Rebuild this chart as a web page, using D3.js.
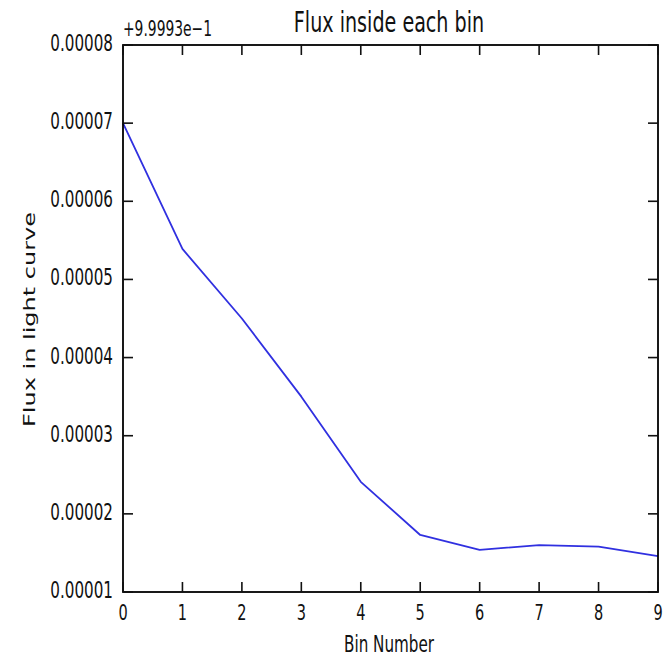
<!DOCTYPE html>
<html>
<head>
<meta charset="utf-8">
<script src="https://cdn.jsdelivr.net/npm/d3@7"></script>
<style>
  html, body { margin: 0; padding: 0; background: #fff; }
  svg { display: block; }
  text { font-family: "DejaVu Sans", sans-serif; fill: #111; }
</style>
</head>
<body>
<svg id="chart" width="672" height="659"></svg>
<script>
// ---- data ----
const binNumbers = [0, 1, 2, 3, 4, 5, 6, 7, 8, 9];
// flux values expressed relative to the offset 0.99993
const fluxOffset = 0.99993;
const fluxRelative = [0.0000700, 0.0000539, 0.0000450, 0.0000350, 0.0000241,
                      0.0000173, 0.0000154, 0.0000160, 0.0000158, 0.0000146];
const yTickValues = [0.00001, 0.00002, 0.00003, 0.00004, 0.00005, 0.00006, 0.00007, 0.00008];
const xTickValues = [0, 1, 2, 3, 4, 5, 6, 7, 8, 9];
const titleText = "Flux inside each bin";
const xLabelText = "Bin Number";
const yLabelText = "Flux in light curve";
const offsetText = "+9.9993e\u22121";

// ---- layout ----
const L = 123, R = 658, T = 45, B = 592;
const SX = 0.66; // horizontal squash of glyphs

const svg = d3.select("#chart");
const x = d3.scaleLinear().domain([0, 9]).range([L, R]);
const y = d3.scaleLinear().domain([0.00001, 0.00008]).range([B, T]);

// data line
const line = d3.line().x((d, i) => x(binNumbers[i])).y(d => y(d));
svg.append("path")
  .datum(fluxRelative)
  .attr("fill", "none")
  .attr("stroke", "#3030e0")
  .attr("stroke-width", 1.8)
  .attr("stroke-linejoin", "round")
  .attr("d", line);

// frame
svg.append("rect")
  .attr("x", L).attr("y", T)
  .attr("width", R - L).attr("height", B - T)
  .attr("fill", "none").attr("stroke", "#000").attr("stroke-width", 1.8);

// ticks, inward on all four sides, drawn as thin rects
const tickLen = 10, tickW = 1.6;
const tg = svg.append("g").attr("fill", "#111");
tg.selectAll("rect.xb").data(xTickValues).join("rect").attr("class", "xb")
  .attr("x", d => x(d) - tickW / 2).attr("y", B - tickLen).attr("width", tickW).attr("height", tickLen);
tg.selectAll("rect.xt").data(xTickValues).join("rect").attr("class", "xt")
  .attr("x", d => x(d) - tickW / 2).attr("y", T).attr("width", tickW).attr("height", tickLen);
tg.selectAll("rect.yl").data(yTickValues).join("rect").attr("class", "yl")
  .attr("x", L).attr("y", d => y(d) - tickW / 2).attr("width", tickLen).attr("height", tickW);
tg.selectAll("rect.yr").data(yTickValues).join("rect").attr("class", "yr")
  .attr("x", R - tickLen).attr("y", d => y(d) - tickW / 2).attr("width", tickLen).attr("height", tickW);

// tick labels
const fmtY = d3.format(".5f");
svg.append("g").selectAll("text").data(xTickValues).join("text")
  .attr("transform", d => `translate(${x(d)},620) scale(${SX},1)`)
  .attr("text-anchor", "middle")
  .style("font-size", "22px")
  .text(d => d);
svg.append("g").selectAll("text").data(yTickValues).join("text")
  .attr("transform", d => `translate(113,${y(d) + 6}) scale(${SX},1)`)
  .attr("text-anchor", "end")
  .style("font-size", "23px")
  .text(d => fmtY(d));

// offset text
svg.append("text")
  .attr("transform", `translate(${L},36) scale(${SX},1)`)
  .style("font-size", "21px")
  .text(offsetText);

// title
svg.append("text")
  .attr("transform", `translate(389,32) scale(${SX},1)`)
  .attr("text-anchor", "middle")
  .style("font-size", "29px")
  .text(titleText);

// x label
svg.append("text")
  .attr("transform", `translate(389,652) scale(${SX},1)`)
  .attr("text-anchor", "middle")
  .style("font-size", "23px")
  .text(xLabelText);

// y label
svg.append("text")
  .attr("transform", `translate(35,${(T + B) / 2 + 1}) scale(${SX},1) rotate(-90)`)
  .attr("text-anchor", "middle")
  .style("font-size", "24px")
  .text(yLabelText);
</script>
</body>
</html>
